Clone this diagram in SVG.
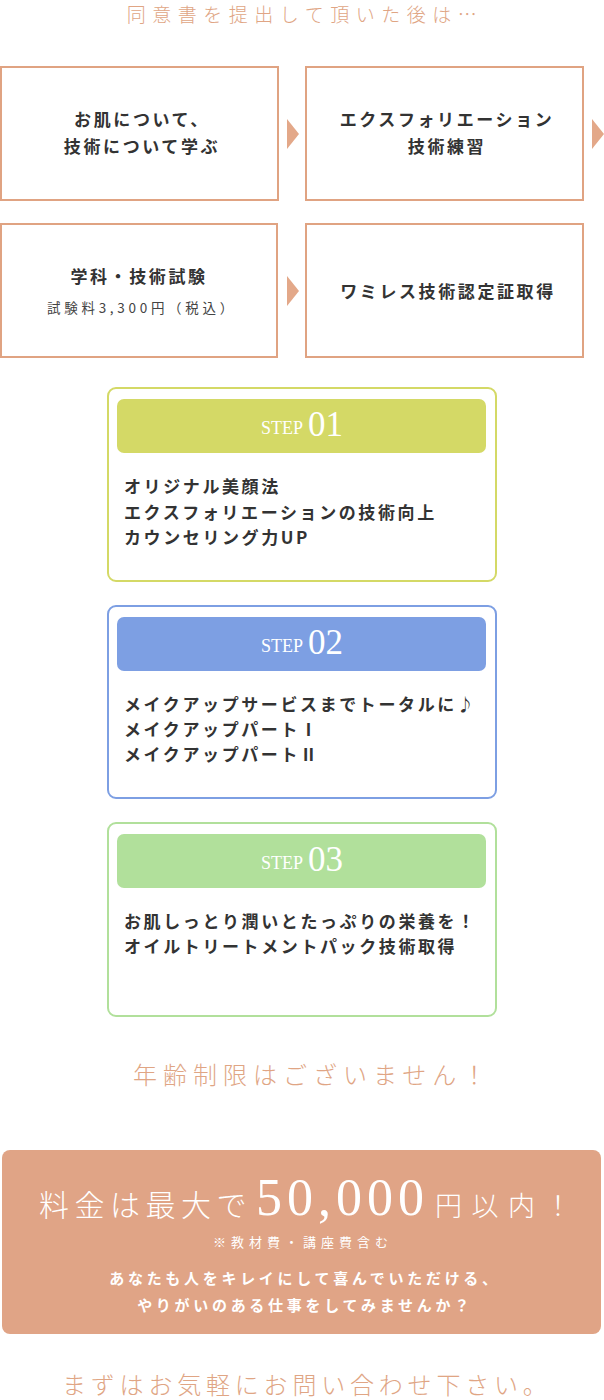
<svg xmlns="http://www.w3.org/2000/svg" width="604" height="1400" viewBox="0 0 604 1400">
<style>
.bg{fill:#ffffff}
.box{fill:#ffffff;stroke:#e0a382;stroke-width:2}
.arrow{fill:#e3a889}
.lbl{font-family:"Noto Sans CJK JP","Noto Sans",sans-serif;font-weight:700;font-size:17px;letter-spacing:2.6px;fill:#333333}
.sub{font-family:"Noto Sans CJK JP","Noto Sans",sans-serif;font-weight:400;font-size:13.5px;letter-spacing:3.7px;fill:#444444}
.peach{font-family:"Noto Sans CJK JP","Noto Sans",sans-serif;font-weight:300;fill:#e0a584}
.step{fill:#ffffff;stroke-width:2}
.head{font-family:"Liberation Serif",serif;fill:#ffffff}
.white{fill:#ffffff}
</style>
<rect class="bg" x="0" y="0" width="604" height="1400"/>

<g id="title">
<text class="peach" x="305" y="22" text-anchor="middle" font-size="19" letter-spacing="6.5">同意書を提出して頂いた後は…</text>
</g>

<g id="connectors">
<polygon class="arrow" points="287,119 299,134 287,149"/>
<polygon class="arrow" points="592,119 604,134 592,149"/>
<polygon class="arrow" points="287,276 299,291 287,306"/>
</g>

<g id="node-skin">
<rect class="box" x="1" y="67" width="277" height="133"/>
<text class="lbl" x="142" y="126" text-anchor="middle">お肌について、</text>
<text class="lbl" x="142" y="153" text-anchor="middle">技術について学ぶ</text>
</g>

<g id="node-exfoliation">
<rect class="box" x="306" y="67" width="277" height="133"/>
<text class="lbl" x="447" y="126" text-anchor="middle">エクスフォリエーション</text>
<text class="lbl" x="447" y="153" text-anchor="middle">技術練習</text>
</g>

<g id="node-exam">
<rect class="box" x="1" y="224" width="276" height="133"/>
<text class="lbl" x="139" y="283" text-anchor="middle">学科・技術試験</text>
<text class="sub" x="142" y="313" text-anchor="middle">試験料3,300円（税込）</text>
</g>

<g id="node-cert">
<rect class="box" x="306" y="224" width="277" height="133"/>
<text class="lbl" x="448" y="298" text-anchor="middle">ワミレス技術認定証取得</text>
</g>

<g id="step1">
<rect class="step" x="108" y="388" width="388" height="193" rx="8" stroke="#d4d966"/>
<rect x="117" y="399" width="369" height="54" rx="7" fill="#d4d966"/>
<text class="head" x="302" y="434" text-anchor="middle"><tspan font-size="18">STEP</tspan><tspan dx="5" dy="2" font-size="35">01</tspan></text>
<text class="lbl" x="124" y="493">オリジナル美顔法</text>
<text class="lbl" x="124" y="519">エクスフォリエーションの技術向上</text>
<text class="lbl" x="124" y="544">カウンセリング力UP</text>
</g>

<g id="step2">
<rect class="step" x="108" y="606" width="388" height="192" rx="8" stroke="#7d9fe3"/>
<rect x="117" y="617" width="369" height="54" rx="7" fill="#7d9fe3"/>
<text class="head" x="302" y="652" text-anchor="middle"><tspan font-size="18">STEP</tspan><tspan dx="5" dy="2" font-size="35">02</tspan></text>
<text class="lbl" x="124" y="711">メイクアップサービスまでトータルに♪</text>
<text class="lbl" x="124" y="736">メイクアップパートⅠ</text>
<text class="lbl" x="124" y="761">メイクアップパートⅡ</text>
</g>

<g id="step3">
<rect class="step" x="108" y="823" width="388" height="193" rx="8" stroke="#b1e09b"/>
<rect x="117" y="834" width="369" height="54" rx="7" fill="#b1e09b"/>
<text class="head" x="302" y="869" text-anchor="middle"><tspan font-size="18">STEP</tspan><tspan dx="5" dy="2" font-size="35">03</tspan></text>
<text class="lbl" x="124" y="928">お肌しっとり潤いとたっぷりの栄養を！</text>
<text class="lbl" x="124" y="953">オイルトリートメントパック技術取得</text>
</g>

<g id="age">
<text class="peach" x="133" y="1084" font-size="24" letter-spacing="6">年齢制限はございません！</text>
</g>

<g id="price">
<rect x="2" y="1150" width="599" height="184" rx="8" fill="#e0a486"/>
<text class="white" x="39" y="1216" font-family="Noto Sans CJK JP, sans-serif" font-weight="300" font-size="30" letter-spacing="5.5">料金は最大で</text>
<text class="white" x="256" y="1215" font-family="Liberation Serif, serif" font-size="52" letter-spacing="5">50,000</text>
<text class="white" x="435" y="1216" font-family="Noto Sans CJK JP, sans-serif" font-weight="300" font-size="27" letter-spacing="9.5">円以内！</text>
<text class="white" x="303" y="1247" text-anchor="middle" font-family="Noto Sans CJK JP, sans-serif" font-weight="400" font-size="13" letter-spacing="5">※教材費・講座費含む</text>
<text class="white" x="305" y="1284" text-anchor="middle" font-family="Noto Sans CJK JP, sans-serif" font-weight="700" font-size="15" letter-spacing="3.7">あなたも人をキレイにして喜んでいただける、</text>
<text class="white" x="305" y="1311" text-anchor="middle" font-family="Noto Sans CJK JP, sans-serif" font-weight="700" font-size="15" letter-spacing="3.7">やりがいのある仕事をしてみませんか？</text>
</g>

<g id="contact">
<text class="peach" x="62" y="1394" font-size="24" letter-spacing="4.8">まずはお気軽にお問い合わせ下さい。</text>
</g>
</svg>
